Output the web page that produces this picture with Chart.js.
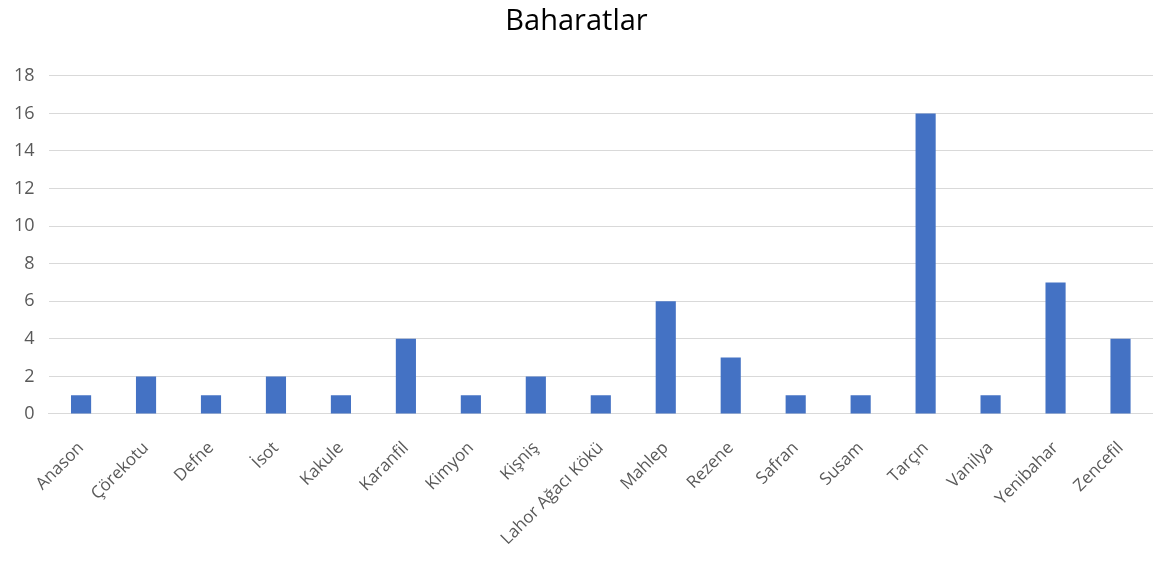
<!DOCTYPE html>
<html>
<head>
<meta charset="utf-8">
<script src="https://cdn.jsdelivr.net/npm/chart.js@4"></script>
<style>
  html, body { margin: 0; padding: 0; background: #fff; }
  #wrap { width: 1153px; height: 565px; }
</style>
</head>
<body>
<div id="wrap"><canvas id="spiceChart"></canvas></div>
<script>
const spices = ['Anason', 'Çörekotu', 'Defne', 'İsot', 'Kakule', 'Karanfil', 'Kimyon', 'Kişniş',
    'Lahor Ağacı Kökü', 'Mahlep', 'Rezene', 'Safran', 'Susam', 'Tarçın', 'Vanilya', 'Yenibahar', 'Zencefil'];
const counts = [1, 2, 1, 2, 1, 4, 1, 2, 1, 6, 3, 1, 1, 16, 1, 7, 4];
const yTicks = [0, 2, 4, 6, 8, 10, 12, 14, 16, 18];

const tickColor = '#595959';
const gridColor = '#d9d9d9';

new Chart(document.getElementById('spiceChart'), {
    type: 'bar',
    data: {
        labels: spices,
        datasets: [{
            label: 'Baharatlar',
            data: counts,
            backgroundColor: '#4472c4',
            barPercentage: 0.62,
            categoryPercentage: 0.5
        }]
    },
    options: {
        responsive: true,
        maintainAspectRatio: false,
        animation: false,
        layout: { padding: { left: 0, right: 0, top: 0, bottom: 0 } },
        plugins: {
            legend: { display: false },
            tooltip: { enabled: false },
            title: {
                display: true,
                text: 'Baharatlar',
                color: '#000',
                font: { family: 'Open Sans', size: 29, weight: 'normal' },
                padding: { top: 4, bottom: 37 }
            }
        },
        scales: {
            x: {
                grid: { display: false },
                border: { color: gridColor, width: 1 },
                ticks: {
                    color: tickColor,
                    font: { family: 'Open Sans', size: 17 },
                    maxRotation: 45,
                    minRotation: 45,
                    autoSkip: false,
                    padding: 16
                }
            },
            y: {
                min: 0,
                max: yTicks[yTicks.length - 1],
                afterBuildTicks: axis => {
                    axis.ticks = yTicks.map(v => ({ value: v }));
                },
                grid: { color: gridColor, drawTicks: false },
                border: { display: false },
                ticks: {
                    color: tickColor,
                    font: { family: 'Open Sans', size: 18 },
                    padding: 14
                }
            }
        }
    }
});
</script>
</body>
</html>
